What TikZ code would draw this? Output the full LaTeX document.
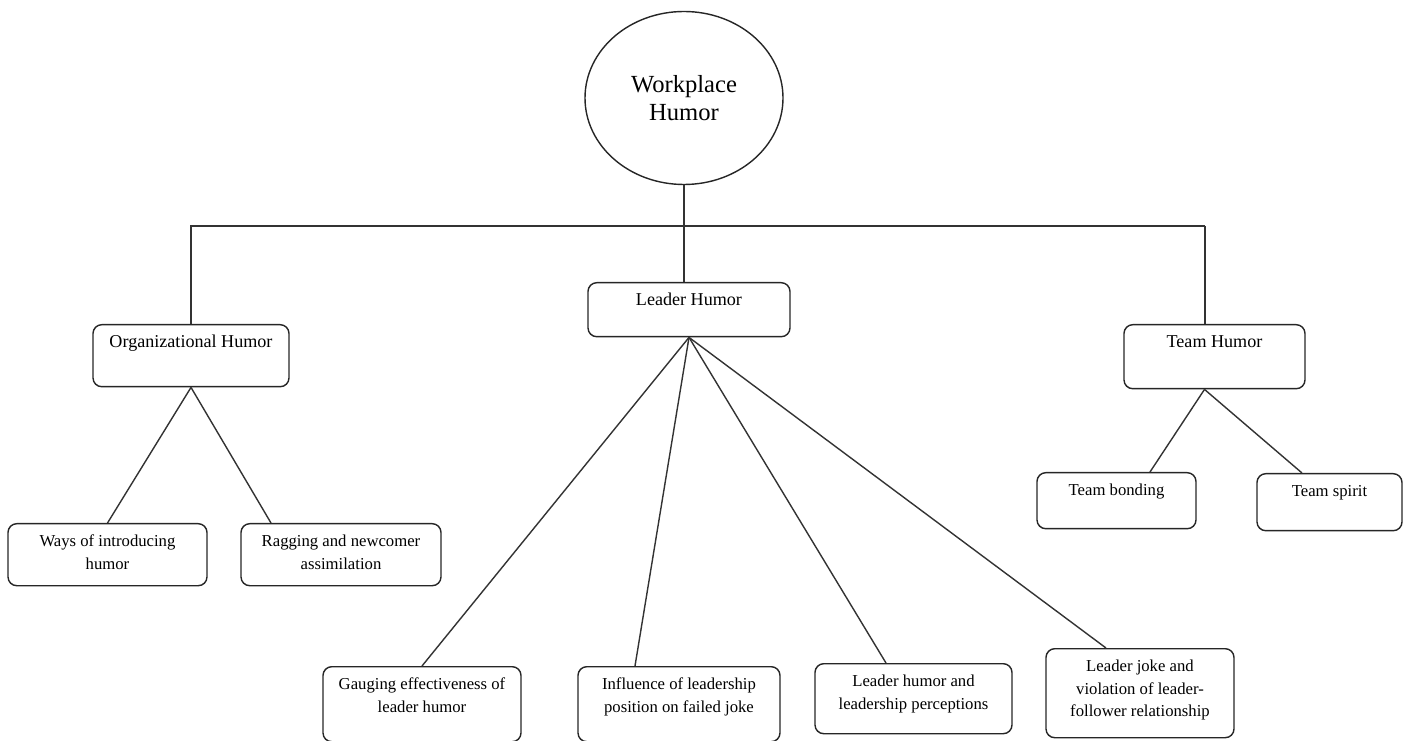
\documentclass[tikz,border=0pt]{standalone}
\usepackage{fontspec}
\setmainfont{LiberationSerif}[Extension=.ttf,UprightFont=*-Regular,BoldFont=*-Bold,ItalicFont=*-Italic,BoldItalicFont=*-BoldItalic]
\usetikzlibrary{shapes.geometric}
\newcommand{\tbox}[3]{\parbox[c][#2][t]{#1}{\centering\rule{0pt}{13pt}#3}}

\begin{document}
\begin{tikzpicture}[line width=0.8pt,
  hbox/.style={draw=black!85,rounded corners=5pt,inner sep=0pt,anchor=north,font=\fontsize{10.3}{12.8}\selectfont},
  lbox/.style={hbox,font=\fontsize{9.5}{12.8}\selectfont},
  link/.style={draw=black!80}]
\useasboundingbox (0,0) rectangle (28.16,14.8);
% root
\node[ellipse,draw=black!85,minimum width=3.96cm,minimum height=3.46cm,inner sep=0pt,align=center,font=\fontsize{14}{16}\selectfont] (wp) at (13.68,12.84) {Workplace\\Humor};
% second level
\node[hbox] (org) at (3.82,8.32) {\tbox{3.92cm}{1.24cm}{Organizational Humor}};
\node[hbox] (leader) at (13.78,9.16) {\tbox{4.04cm}{1.08cm}{Leader Humor}};
\node[hbox] (team) at (24.29,8.32) {\tbox{3.62cm}{1.28cm}{Team Humor}};
% leaves
\node[lbox] (ways) at (2.15,4.34) {\tbox{3.98cm}{1.24cm}{Ways of introducing\\humor}};
\node[lbox] (rag) at (6.82,4.34) {\tbox{4.0cm}{1.24cm}{Ragging and newcomer\\assimilation}};
\node[lbox] (gauge) at (8.44,1.48) {\tbox{3.96cm}{1.5cm}{Gauging effectiveness of\\leader humor}};
\node[lbox] (infl) at (13.58,1.48) {\tbox{4.04cm}{1.5cm}{Influence of leadership\\position on failed joke}};
\node[lbox] (perc) at (18.27,1.54) {\tbox{3.94cm}{1.4cm}{Leader humor and\\leadership perceptions}};
\node[lbox] (viol) at (22.8,1.84) {\tbox{3.76cm}{1.78cm}{Leader joke and\\violation of leader-\\follower relationship}};
\node[lbox] (bond) at (22.33,5.36) {\tbox{3.18cm}{1.12cm}{Team bonding}};
\node[lbox] (spirit) at (26.59,5.34) {\tbox{2.9cm}{1.14cm}{Team spirit}};
% bar
\coordinate (barL) at (3.8,10.28);
\coordinate (barR) at (24.1,10.28);
\draw[link] (barL) -- (barR);
\draw[link] (wp.south) -- (wp.south |- leader.north);
\draw[link] (org.north) -- (org.north |- barL);
\draw[link] (barR) -- (barR |- team.north);
% branches
\draw[link] (org.south) -- (ways.north);
\draw[link] (org.south) -- ([xshift=-1.4cm]rag.north);
\foreach \n/\s in {gauge/0,infl/-0.88,perc/-0.55,viol/-0.68}
  \draw[link] (leader.south) -- ([xshift=\s cm]\n.north);
\draw[link] ([xshift=-0.2cm]team.south) -- ([xshift=0.67cm]bond.north);
\draw[link] ([xshift=-0.2cm]team.south) -- ([xshift=-0.55cm]spirit.north);
\end{tikzpicture}
\end{document}
